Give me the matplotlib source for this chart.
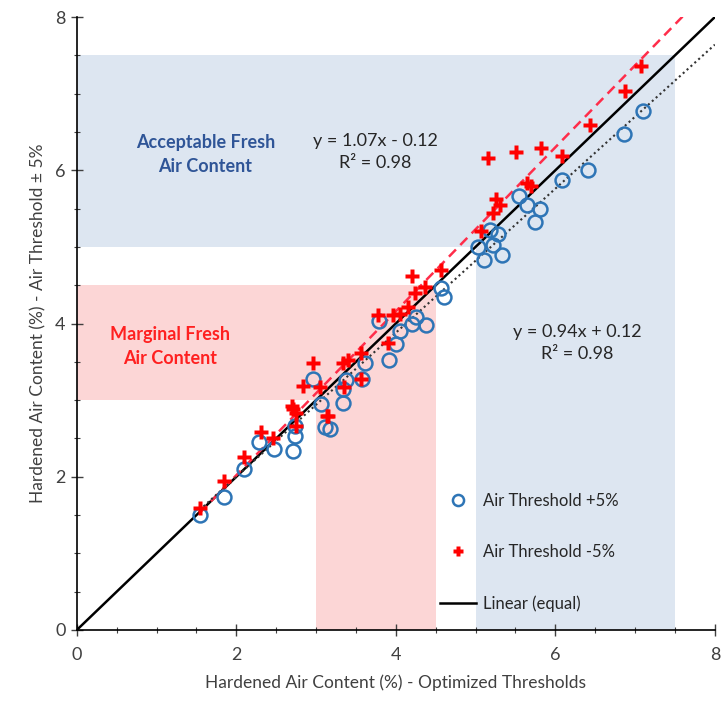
import numpy as np
import matplotlib.pyplot as plt
from matplotlib.patches import Rectangle
from matplotlib.lines import Line2D
from matplotlib.ticker import MultipleLocator

plt.rcParams['font.family'] = ['Lato', 'DejaVu Sans']

# optimized thresholds (x) vs +5% threshold (y)
x_plus = [1.54, 1.85, 2.09, 2.29, 2.47, 2.71, 2.73, 2.73, 3.06, 3.11, 3.17, 2.96, 3.34, 3.34,
          3.57, 3.38, 3.61, 3.91, 3.79, 4.05, 4.00, 4.20, 4.25, 4.38, 4.57, 4.61, 5.03, 5.10,
          5.18, 5.22, 5.28, 5.33, 5.55, 5.64, 5.74, 5.81, 6.08, 6.41, 6.86, 7.10]
y_plus = [1.50, 1.73, 2.10, 2.45, 2.36, 2.34, 2.53, 2.66, 2.95, 2.65, 2.62, 3.28, 3.14, 2.96,
          3.27, 3.26, 3.49, 3.52, 4.03, 3.90, 3.73, 4.00, 4.08, 3.98, 4.46, 4.35, 5.00, 4.83,
          5.22, 5.03, 5.17, 4.89, 5.66, 5.55, 5.33, 5.50, 5.87, 6.01, 6.48, 6.78]

# optimized thresholds (x) vs -5% threshold (y)
x_minus = [1.54, 1.85, 2.09, 2.31, 2.46, 2.70, 2.75, 2.75, 2.71, 3.14, 2.83, 3.05, 2.96, 3.15,
           3.34, 3.40, 3.56, 3.35, 3.56, 3.78, 3.97, 4.05, 3.90, 4.15, 4.20, 4.24, 4.36, 4.57,
           5.07, 5.22, 5.26, 5.30, 5.64, 5.70, 5.16, 5.51, 5.82, 6.08, 6.43, 6.87, 7.08]
y_minus = [1.59, 1.95, 2.26, 2.59, 2.51, 2.92, 2.83, 2.66, 2.89, 2.79, 3.18, 3.17, 3.48, 2.79,
           3.48, 3.52, 3.28, 3.17, 3.62, 4.11, 4.11, 4.13, 3.74, 4.22, 4.62, 4.40, 4.48, 4.70,
           5.21, 5.44, 5.62, 5.55, 5.84, 5.79, 6.16, 6.24, 6.29, 6.18, 6.59, 7.03, 7.36]

# trendlines as reported on the chart
fit_minus = (1.07, -0.12)
fit_plus = (0.94, 0.12)

# zones: (x0, x1, y0, y1)
accept_zones = [(0, 7.5, 5, 7.5), (5, 7.5, 0, 7.5)]
marginal_zones = [(0, 4.5, 3, 4.5), (3, 4.5, 0, 4.5)]

fig = plt.figure(figsize=(7.25, 7.11), dpi=100)
ax = fig.add_axes([0.106, 0.114, 0.880, 0.862])

for x0, x1, y0, y1 in accept_zones:
    ax.add_patch(Rectangle((x0, y0), x1 - x0, y1 - y0, facecolor='#dde6f1', edgecolor='none', zorder=0))
for x0, x1, y0, y1 in marginal_zones:
    ax.add_patch(Rectangle((x0, y0), x1 - x0, y1 - y0, facecolor='#fcd6d6', edgecolor='none', zorder=0))

ax.plot([0, 8], [0, 8], color='black', lw=1.8, zorder=2)
xm = np.array([1.54, 7.6])
ax.plot(xm, fit_minus[0] * xm + fit_minus[1], color='#ff2d4a', lw=1.8, ls=(0, (4, 2.5)), zorder=2)
xp = np.array([1.54, 8.0])
ax.plot(xp, fit_plus[0] * xp + fit_plus[1], color='#333333', lw=1.5, ls=(0, (1, 1.5)), zorder=2)

ax.plot(x_plus, y_plus, 'o', mfc='none', mec='#2e75b6', mew=1.8, ms=10, zorder=3)
ax.plot(x_minus, y_minus, 'P', color='#ff0000', mec='none', ms=10, zorder=4)

ax.set_xlim(0, 8)
ax.set_ylim(0, 8)
ax.xaxis.set_major_locator(MultipleLocator(2))
ax.yaxis.set_major_locator(MultipleLocator(2))
ax.xaxis.set_minor_locator(MultipleLocator(0.5))
ax.yaxis.set_minor_locator(MultipleLocator(0.5))
ax.tick_params(which='major', direction='inout', length=9, width=1, labelsize=13, colors='#404040')
ax.tick_params(which='minor', direction='inout', length=5, width=0.8, color='#404040')
ax.tick_params(axis='x', pad=8)
for s in ['top', 'right']:
    ax.spines[s].set_visible(False)
for s in ['left', 'bottom']:
    ax.spines[s].set_color('black')
    ax.spines[s].set_linewidth(1.2)

ax.set_xlabel('Hardened Air Content (%) - Optimized Thresholds', fontsize=12.5, color='#404040', labelpad=8)
ax.set_ylabel('Hardened Air Content (%) - Air Threshold \u00b1 5%', fontsize=12.5, color='#404040', labelpad=6)

ax.text(1.61, 6.2, 'Acceptable Fresh\nAir Content', ha='center', va='center', fontsize=13,
        fontweight='bold', color='#2f5597', linespacing=1.5)
ax.text(1.17, 3.7, 'Marginal Fresh\nAir Content', ha='center', va='center', fontsize=13,
        fontweight='bold', color='#ff2020', linespacing=1.5)
ax.text(3.74, 6.24, 'y = 1.07x - 0.12\nR\u00b2 = 0.98', ha='center', va='center', fontsize=13,
        color='#262626', linespacing=1.45)
ax.text(6.27, 3.75, 'y = 0.94x + 0.12\nR\u00b2 = 0.98', ha='center', va='center', fontsize=13,
        color='#262626', linespacing=1.45)

handles = [Line2D([], [], ls='none', marker='o', mfc='none', mec='#2e75b6', mew=1.8, ms=8),
           Line2D([], [], ls='none', marker='P', color='#ff0000', mec='none', ms=7),
           Line2D([], [], color='black', lw=1.8)]
labels = ['Air Threshold +5%', 'Air Threshold -5%', 'Linear (equal)']
ax.legend(handles, labels, loc='lower left', bbox_to_anchor=(0.545, 0.005), frameon=False,
          fontsize=12, labelspacing=2.1, handlelength=2.2, handletextpad=0.4,
          labelcolor='#262626')

fig.savefig('out.png', dpi=100)
